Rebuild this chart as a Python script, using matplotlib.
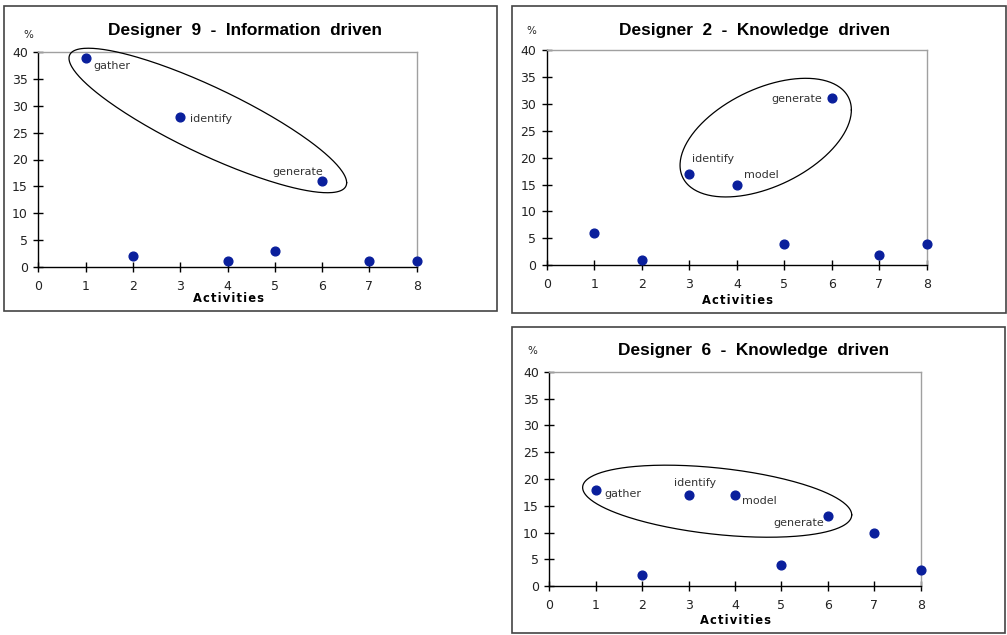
import numpy as np
import matplotlib
matplotlib.use("Agg")
import matplotlib.pyplot as plt
from matplotlib.patches import Rectangle

W, H = 1007, 635

# ---- data ----
activities = [1, 2, 3, 4, 5, 6, 7, 8]
designer9 = [39, 2, 28, 1, 3, 16, 1, 1]
designer2 = [6, 1, 17, 15, 4, 31, 2, 4]
designer6 = [18, 2, 17, 17, 4, 13, 10, 3]

titles = ["Designer  9  -  Information  driven",
          "Designer  2  -  Knowledge  driven",
          "Designer  6  -  Knowledge  driven"]
x_ticks = [0, 1, 2, 3, 4, 5, 6, 7, 8]
y_ticks = [0, 5, 10, 15, 20, 25, 30, 35, 40]

# point labels: (activity, text, dx, dy) offsets in data units from the point
labels9 = [(1, "gather", 0.16, -1.5), (3, "identify", 0.21, -0.4), (6, "generate", -1.05, 1.7)]
labels2 = [(6, "generate", -1.28, -0.1), (3, "identify", 0.06, 2.75), (4, "model", 0.145, 1.8)]
labels6 = [(1, "gather", 0.185, -0.8), (3, "identify", -0.32, 2.3), (4, "model", 0.16, -1.1), (6, "generate", -1.17, -1.3)]

# ellipse annotation: center, conjugate half-axes (data units)
ell9 = ((3.584, 27.28), (2.935, -11.61), (0.0, -6.85))
ell2 = ((4.607, 23.72), (1.802, 5.14), (0.0, -9.75))
ell6 = ((3.616, 15.85), (2.898, -2.558), (0.0, -6.23))

# ---- layout (pixels) ----
panels = [
    dict(vals=designer9, labels=labels9, ell=ell9, title=titles[0],
         ax=(38.3, 416.7, 52.3, 266.7), frame=(4, 497, 6, 311),
         tpos=(244.7, 30), pct=(28.3, 35), act=(228.7, 299)),
    dict(vals=designer2, labels=labels2, ell=ell2, title=titles[1],
         ax=(546.7, 927.0, 50.0, 265.3), frame=(512, 1006, 6, 313),
         tpos=(754.3, 30), pct=(531.7, 31), act=(737.3, 300)),
    dict(vals=designer6, labels=labels6, ell=ell6, title=titles[2],
         ax=(549.3, 920.7, 372.0, 586.0), frame=(512, 1005, 327, 633),
         tpos=(753.3, 351), pct=(532.3, 351.5), act=(736, 621)),
]

fig = plt.figure(figsize=(W / 100, H / 100), dpi=100)
fig.patch.set_facecolor("white")

def fx(x):
    return x / W

def fy(y):
    return 1 - y / H

dot_color = "#0a1f9c"

for p in panels:
    x0, x1, yt, yb = p["ax"]
    ax = fig.add_axes([fx(x0), fy(yb), (x1 - x0) / W, (yb - yt) / H])
    ax.set_xlim(0, 8)
    ax.set_ylim(0, 40)
    ax.set_xticks(x_ticks)
    ax.set_yticks(y_ticks)
    ax.tick_params(axis="both", direction="inout", length=7, width=1.0,
                   labelsize=9, colors="black", labelcolor="#222222")
    ax.tick_params(axis="x", pad=6)
    ax.tick_params(axis="y", pad=4)
    for s in ("left", "bottom"):
        ax.spines[s].set_color("black")
        ax.spines[s].set_linewidth(1.0)
    for s in ("top", "right"):
        ax.spines[s].set_color("#a0a0a0")
        ax.spines[s].set_linewidth(1.0)
    ax.plot(activities, p["vals"], linestyle="none", marker="o", markersize=6.3,
            color=dot_color, clip_on=False, zorder=5)
    for a, txt, dx, dy in p["labels"]:
        yv = p["vals"][activities.index(a)]
        ax.text(a + dx, yv + dy, txt, fontsize=8, color="#333333",
                ha="left", va="center")
    (cx, cy), u, v = p["ell"]
    t = np.linspace(0, 2 * np.pi, 300)
    ex = cx + u[0] * np.cos(t) + v[0] * np.sin(t)
    ey = cy + u[1] * np.cos(t) + v[1] * np.sin(t)
    ax.plot(ex, ey, color="black", linewidth=0.9, clip_on=False, zorder=4)

    # frame around panel
    l, r, t0, b = p["frame"]
    fig.patches.append(Rectangle((fx(l), fy(b)), (r - l) / W, (b - t0) / H,
                                 transform=fig.transFigure, fill=False,
                                 edgecolor="#444444", linewidth=1.2))
    fig.text(fx(p["tpos"][0]), fy(p["tpos"][1]), p["title"], fontsize=12.4,
             fontweight="bold", ha="center", va="center", color="black",
             family="Liberation Sans")
    fig.text(fx(p["pct"][0]), fy(p["pct"][1]), "%", fontsize=7.5, ha="center",
             va="center", color="#222222")
    fig.text(fx(p["act"][0]), fy(p["act"][1]), "\u200a".join("Activities"),
             fontsize=8.3, fontweight="bold", ha="center", va="center", color="black")

fig.savefig("out.png", dpi=100, facecolor="white")
